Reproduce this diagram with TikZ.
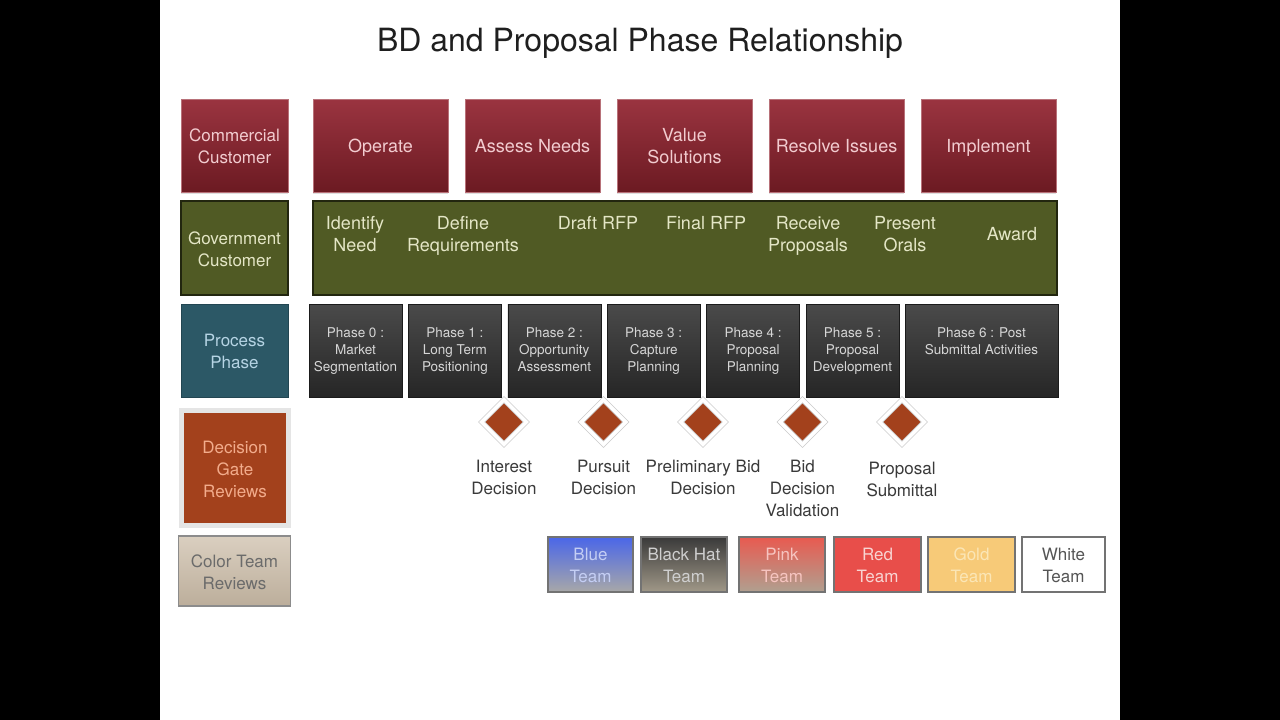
\documentclass[tikz,border=0pt]{standalone}
\usepackage{fontspec}
\setmainfont{TeX Gyre Heros}
\usetikzlibrary{shapes.geometric,shadows,positioning}

\definecolor{crimsonTop}{HTML}{9A3440}
\definecolor{crimsonBot}{HTML}{6C1A22}
\definecolor{crimsonText}{HTML}{F2CCD0}
\definecolor{oliveFill}{HTML}{505A24}
\definecolor{oliveEdge}{HTML}{22260F}
\definecolor{oliveText}{HTML}{E4E6C6}
\definecolor{tealFill}{HTML}{2C5866}
\definecolor{tealText}{HTML}{B6D4E4}
\definecolor{phaseTop}{HTML}{4A4A4A}
\definecolor{phaseBot}{HTML}{262626}
\definecolor{phaseText}{HTML}{D6D6D6}
\definecolor{rustFill}{HTML}{A3411C}
\definecolor{rustText}{HTML}{F2AC8C}
\definecolor{sandTop}{HTML}{DACFC0}
\definecolor{sandBot}{HTML}{BCAE9B}
\definecolor{gateText}{HTML}{3A3A3A}

\tikzset{
  % fixed text boxes, so that every line sits where the slide puts it
  rows1/.style={text height=20pt, text depth=6pt},
  rows2/.style={text height=42pt, text depth=6pt},
  rows3/.style={text height=64pt, text depth=6pt},
  box/.style={inner sep=0pt, align=center, font=\fontsize{18}{22}\selectfont},
  crimsonbox/.style={box, top color=crimsonTop, bottom color=crimsonBot, draw=crimsonTop!70!white,
    line width=.5pt, text=crimsonText, minimum width=135pt, minimum height=93pt,
    drop shadow={opacity=.25, shadow xshift=0pt, shadow yshift=-1.5pt}},
  olivebox/.style={box, fill=oliveFill, draw=oliveEdge, line width=2pt, text=oliveText,
    minimum width=107pt, minimum height=94pt},
  govtext/.style={box, text=oliveText},
  tealbox/.style={box, fill=tealFill, draw=tealFill!80!black, text=tealText,
    minimum width=107pt, minimum height=93pt},
  phasebox/.style={box, top color=phaseTop, bottom color=phaseBot, draw=phaseBot!70!black,
    text=phaseText, minimum width=93pt, minimum height=93pt,
    font=\fontsize{13.5}{17}\selectfont, text height=46.8pt, text depth=4pt},
  gatebox/.style={box, fill=rustFill, draw=black!10, line width=5pt, text=rustText,
    minimum width=107pt, minimum height=115pt,
    drop shadow={opacity=.3, shadow xshift=0pt, shadow yshift=-2pt}},
  colorteambox/.style={box, top color=sandTop, bottom color=sandBot, draw=black!45,
    line width=1.5pt, text=black!58, minimum width=112pt, minimum height=70pt},
  gate/.style={diamond, inner sep=0pt, minimum width=45pt, minimum height=45pt,
    fill=rustFill, draw=black!20, double=white, double distance=3.5pt, line width=.8pt,
    drop shadow={opacity=.3, shadow xshift=0pt, shadow yshift=-2pt}},
  gatelabel/.style={box, text=gateText, font=\fontsize{17}{22}\selectfont},
  teambox/.style={box, rows2, draw=black!55, line width=1.2pt, minimum height=55pt,
    font=\fontsize{17}{22}\selectfont}
}

\begin{document}
\begin{tikzpicture}[x=1pt,y=-1pt]
    \def\colL{234.5} % centre of the left column
    \def\rowA{145.5} % commercial row
    \def\rowB{248} % government row
    \def\rowC{350.5} % phase row
    \def\gateY{422} % decision diamonds
    \def\teamY{564.5} % colour teams

    % slide
    \fill[black] (0,0) rectangle (1280,720);
    \fill[white] (160,0) rectangle (1120,720);
    \useasboundingbox (0,0) rectangle (1280,720);

    \node[text=black!88, font=\fontsize{32}{38}\selectfont] (title) at (640,43) {BD and Proposal Phase Relationship};

    % left column
    \node[crimsonbox, rows2, minimum width=107pt, font=\fontsize{17}{22}\selectfont] (commercial) at (\colL,\rowA) {Commercial\\Customer};
    \node[olivebox, rows2, font=\fontsize{17}{22}\selectfont] (government) at (\colL,\rowB) {Government\\Customer};
    \node[tealbox, rows2, font=\fontsize{17}{22}\selectfont] (process) at (\colL,\rowC) {Process\\Phase};
    \node[gatebox, rows3, font=\fontsize{17}{22}\selectfont] (gates) at (235,468) {Decision\\Gate\\Reviews};
    \node[colorteambox, rows2, font=\fontsize{17}{22}\selectfont] (colorteam) at (234.5,571) {Color Team\\Reviews};

    % commercial customer
    \foreach \name/\n [count=\i from 0] in {Operate/1, Assess Needs/1, {Value\\Solutions}/2, Resolve Issues/1, Implement/1}
        \node[crimsonbox, rows\n] (buy\i) at (380.5+152*\i,\rowA) {\name};

    % government customer
    \node[olivebox, minimum width=744pt] (govsteps) at (685,\rowB) {};
    \foreach \x/\y/\n/\name [count=\i] in {355/233/2/{Identify\\Need}, 463/233/2/{Define\\Requirements}, 598/222/1/{Draft RFP}, 706/222/1/{Final RFP}, 808/233/2/{Receive\\Proposals}, 905/233/2/{Present\\Orals}, 1012/233/1/{Award}}
        \node[govtext, rows\n] (gov\i) at (\x,\y) {\name};

    % process phases
    \foreach \name [count=\i from 0] in {{Phase 0 :\\Market\\Segmentation}, {Phase 1 :\\Long Term\\Positioning}, {Phase 2 :\\Opportunity\\Assessment}, {Phase 3 :\\Capture\\Planning}, {Phase 4 :\\Proposal\\Planning}, {Phase 5 :\\Proposal\\Development}}
        \node[phasebox] (ph\i) at (355.5+99.4*\i,\rowC) {\name};
    \node[phasebox, minimum width=153pt] (ph6) at (981.5,\rowC) {Phase 6 : Post\\Submittal Activities\\~};

    % decision gates
    \foreach \n/\gap/\name [count=\i from 0] in {2/7/{Interest\\Decision}, 2/7/{Pursuit\\Decision}, 2/7/{Preliminary Bid\\Decision}, 3/7/{Bid\\Decision\\Validation}, 2/9/{Proposal\\Submittal}} {
        \node[gate] (gate\i) at (504+99.5*\i,\gateY) {};
        \node[gatelabel, rows\n, below=\gap pt of gate\i] (gatelbl\i) {\name};
    }

    % colour teams
    \foreach \x/\w/\top/\bot/\txt/\name [count=\i] in {
        590.5/85/4A66E8/A8A8A8/C4CEF4/{Blue\\Team},
        684/86/3A3A3A/A09888/CFCFCF/{Black Hat\\Team},
        782/86/E85A50/B0A090/F6C4C0/{Pink\\Team},
        877.5/87/E84E4A/E84E4A/F8D4D2/{Red\\Team},
        971.5/87/F7CA78/F7CA78/FBE6B6/{Gold\\Team},
        1063.5/83/FFFFFF/FFFFFF/555555/{White\\Team}} {
        \definecolor{tmTop}{HTML}{\top}
        \definecolor{tmBot}{HTML}{\bot}
        \definecolor{tmText}{HTML}{\txt}
        \node[teambox, minimum width=\w pt, top color=tmTop, bottom color=tmBot, text=tmText] (team\i) at (\x,\teamY) {\name};
    }

\end{tikzpicture}
\end{document}
